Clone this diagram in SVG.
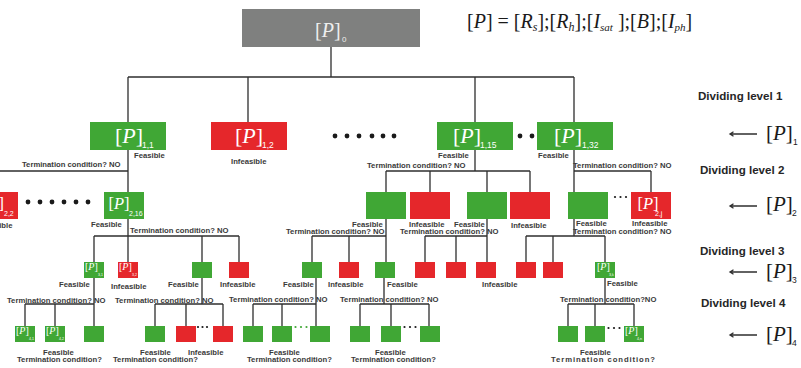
<svg xmlns="http://www.w3.org/2000/svg" width="801" height="368" viewBox="0 0 801 368">
<style>
.g{fill:#40a735}.r{fill:#e5272b}.gy{fill:#7f807f}
.ln{stroke:#2f2f2f;stroke-width:1.3;fill:none}
.lb{font-family:"Liberation Sans",Arial,sans-serif;font-weight:bold;font-size:7.7px;fill:#3a3a3a}
.dl{font-family:"Liberation Sans",Arial,sans-serif;font-weight:bold;font-size:11.6px;fill:#262626}
.pt{font-family:"Liberation Serif","Times New Roman",serif;fill:#fff}
.i{font-style:italic}
.sb{font-family:"Liberation Sans",Arial,sans-serif;fill:#fff}
.fm{font-family:"Liberation Serif","Times New Roman",serif;font-size:20px;fill:#1a1a1a}
.lp{font-family:"Liberation Serif","Times New Roman",serif;font-size:21px;fill:#1a1a1a}
.ls{font-family:"Liberation Sans",Arial,sans-serif;font-size:8.5px;fill:#1a1a1a}
.dk{fill:#1a1a1a}
.dg{fill:#40a735}
</style>
<g id="connectors" class="ln">
<path d="M331 47V77M128 77H574M128 77V122M248 77V122M475 77V122M574 77V122"/>
<path d="M128 150V192M0 171H128"/>
<path d="M128 219V236M94 236H239M94 236V262M128 236V262M202 236V262M239 236V262"/>
<path d="M94 278V326M25 304H94M25 304V326M55 304V326"/>
<path d="M202 278V304M155 304H223M155 304V326M186 304V326M223 304V326"/>
<path d="M475 150V171M386 171H530M386 171V192M430 171V192M487 171V192M530 171V192"/>
<path d="M386 219V236M312 236H386M312 236V262M349 236V262M386 236V262"/>
<path d="M316 278V326M253 304H316M253 304V326M282 304V326"/>
<path d="M384 278V304M360 304H429M360 304V326M391 304V326M429 304V326"/>
<path d="M487 219V236M425 236H487M425 236V262M456 236V262M487 236V262"/>
<path d="M574 150V192M574 171H651M651 171V192"/>
<path d="M574 219V236M526 236H605M526 236V262M553 236V262M605 236V262"/>
<path d="M605 278V304M568 304H634M568 304V326M595 304V326M634 304V326"/>
</g>
<g id="formula">
<text class="fm" x="467" y="28">[<tspan class="i">P</tspan>] = [<tspan class="i">R</tspan><tspan class="i" font-size="12" dy="3">s</tspan><tspan dy="-3">];[</tspan><tspan class="i">R</tspan><tspan class="i" font-size="12" dy="3">h</tspan><tspan dy="-3">];[</tspan><tspan class="i">I</tspan><tspan class="i" font-size="11" dy="3">sat</tspan><tspan dy="-3"> ];[</tspan><tspan class="i">B</tspan>];[<tspan class="i">I</tspan><tspan class="i" font-size="11" dy="3">ph</tspan><tspan dy="-3">]</tspan></text>
</g>
<g id="n0"><rect class="gy" x="242" y="9" width="178" height="38"/><text class="pt" x="315" y="37" font-size="20" style="fill:#eee">[<tspan class="i">P</tspan>]</text><text class="sb" x="342" y="42" font-size="8" style="fill:#eee">0</text></g>
<g id="n1_1"><rect class="g" x="90" y="122" width="76" height="28"/><text class="pt" x="115" y="143" font-size="22">[<tspan class="i">P</tspan>]</text><text class="sb" x="142" y="148" font-size="8.5">1,1</text><text class="lb" x="134" y="157.5">Feasible</text><text class="lb" x="22" y="167">Termination condition? NO</text></g>
<g id="n1_2"><rect class="r" x="211" y="122" width="76" height="28"/><text class="pt" x="235" y="143" font-size="22">[<tspan class="i">P</tspan>]</text><text class="sb" x="262" y="148" font-size="8.5">1,2</text><text class="lb" x="231" y="164">Infeasible</text></g>
<g id="n1_15"><rect class="g" x="437" y="122" width="76" height="28"/><text class="pt" x="453" y="143" font-size="22">[<tspan class="i">P</tspan>]</text><text class="sb" x="480" y="148" font-size="8.5">1,15</text><text class="lb" x="438" y="157.5">Feasible</text><text class="lb" x="367" y="167.5">Termination condition? NO</text></g>
<g id="n1_32"><rect class="g" x="537" y="122" width="76" height="28"/><text class="pt" x="554" y="143" font-size="22">[<tspan class="i">P</tspan>]</text><text class="sb" x="582" y="148" font-size="8.5">1,32</text><text class="lb" x="538" y="158">Feasible</text><text class="lb" x="573" y="167.5">Termination condition? NO</text></g>
<g id="dots1" class="dk"><circle cx="335" cy="136" r="2.4"/><circle cx="347" cy="136" r="2.4"/><circle cx="359" cy="136" r="2.4"/><circle cx="372" cy="136" r="2.4"/><circle cx="383" cy="136" r="2.4"/><circle cx="394" cy="136" r="2.4"/><circle cx="520" cy="136" r="2.4"/><circle cx="532" cy="136" r="2.4"/></g>
<g id="n2_2"><rect class="r" x="-22" y="192" width="40" height="27"/><text class="pt" x="-17" y="209" font-size="16.5">[<tspan class="i">P</tspan>]</text><text class="sb" x="4" y="216" font-size="7">2,2</text><text class="lb" x="-23" y="228">Infeasible</text></g>
<g id="dots2" class="dk"><circle cx="28" cy="202" r="2.4"/><circle cx="40" cy="202" r="2.4"/><circle cx="52" cy="202" r="2.4"/><circle cx="64" cy="202" r="2.4"/><circle cx="76" cy="202" r="2.4"/><circle cx="88" cy="202" r="2.4"/></g>
<g id="n2_16"><rect class="g" x="104" y="192" width="40" height="27"/><text class="pt" x="108.5" y="209" font-size="16.5">[<tspan class="i">P</tspan>]</text><text class="sb" x="129" y="216" font-size="7">2,16</text><text class="lb" x="91" y="227">Feasible</text><text class="lb" x="130" y="233">Termination condition? NO</text></g>
<g id="n2_a"><rect class="g" x="366" y="192" width="40" height="27"/><text class="lb" x="352" y="226.5">Feasible</text><text class="lb" x="286" y="233.5">Termination condition? NO</text></g>
<g id="n2_b"><rect class="r" x="410" y="192" width="40" height="27"/><text class="lb" x="409" y="227">Infeasible</text></g>
<g id="n2_c"><rect class="g" x="467" y="192" width="40" height="27"/><text class="lb" x="454" y="226.5">Feasible</text><text class="lb" x="400" y="233.5">Termination condition? NO</text></g>
<g id="n2_d"><rect class="r" x="510" y="192" width="40" height="27"/><text class="lb" x="511" y="228">Infeasible</text></g>
<g id="n2_e"><rect class="g" x="568" y="192" width="40" height="27"/><text class="lb" x="576" y="226">Feasible</text><text class="lb" x="573" y="234">Termination condition? NO</text></g>
<g id="n2_j"><rect class="r" x="631" y="192" width="40" height="27"/><text class="pt" x="637.5" y="209" font-size="16.5">[<tspan class="i">P</tspan>]</text><text class="sb" x="655" y="216" font-size="7">2,j</text><text class="lb" x="632" y="226">Infeasible</text></g>
<g id="dots2j" class="dk"><circle cx="615" cy="197" r="1.1"/><circle cx="620.5" cy="197" r="1.1"/><circle cx="626" cy="197" r="1.1"/></g>
<g id="n3_1"><rect class="g" x="84" y="262" width="20" height="16"/><text class="pt" x="85" y="270" font-size="10">[<tspan class="i">P</tspan>]</text><text class="sb" x="98" y="276" font-size="3.5">3,1</text><text class="lb" x="59" y="287">Feasible</text><text class="lb" x="7" y="302.5">Termination condition? NO</text></g>
<g id="n3_2"><rect class="r" x="118" y="262" width="20" height="16"/><text class="pt" x="119" y="270" font-size="10">[<tspan class="i">P</tspan>]</text><text class="sb" x="132" y="276" font-size="3.5">3,2</text><text class="lb" x="111" y="289">Infeasible</text></g>
<g id="n3_c"><rect class="g" x="192" y="262" width="20" height="16"/><text class="lb" x="168" y="287">Feasible</text><text class="lb" x="115" y="302.5">Termination condition? NO</text></g>
<g id="n3_d"><rect class="r" x="229" y="262" width="20" height="16"/><text class="lb" x="220" y="287">Infeasible</text></g>
<g id="n3_e"><rect class="g" x="302" y="262" width="20" height="16"/><text class="lb" x="283" y="287">Feasible</text><text class="lb" x="229" y="302">Termination condition? NO</text></g>
<g id="n3_f"><rect class="r" x="339" y="262" width="20" height="16"/><text class="lb" x="328" y="287">Infeasible</text></g>
<g id="n3_g"><rect class="g" x="375" y="262" width="20" height="16"/><text class="lb" x="387" y="287">Feasible</text><text class="lb" x="340" y="302">Termination condition? NO</text></g>
<g id="n3_h"><rect class="r" x="415" y="262" width="20" height="16"/></g>
<g id="n3_i"><rect class="r" x="446" y="262" width="20" height="16"/></g>
<g id="n3_j"><rect class="r" x="476" y="262" width="20" height="16"/><text class="lb" x="482" y="287">Infeasible</text></g>
<g id="n3_k1"><rect class="r" x="516" y="262" width="20" height="16"/></g>
<g id="n3_k2"><rect class="r" x="543" y="262" width="20" height="16"/></g>
<g id="n3_k"><rect class="g" x="595" y="262" width="20" height="16"/><text class="pt" x="597" y="270" font-size="10">[<tspan class="i">P</tspan>]</text><text class="sb" x="609" y="276" font-size="3.5">3,k</text><text class="lb" x="607" y="286">Feasible</text><text class="lb" x="560" y="302">Termination condition?NO</text></g>
<g id="n4_1"><rect class="g" x="15" y="326" width="20" height="16"/><text class="pt" x="16" y="334" font-size="10">[<tspan class="i">P</tspan>]</text><text class="sb" x="29" y="340" font-size="3.5">4,1</text></g>
<g id="n4_2"><rect class="g" x="45" y="326" width="20" height="16"/><text class="pt" x="46" y="334" font-size="10">[<tspan class="i">P</tspan>]</text><text class="sb" x="59" y="340" font-size="3.5">4,2</text></g>
<g id="n4_3"><rect class="g" x="84" y="326" width="20" height="16"/><text class="lb" x="43" y="355">Feasible</text><text class="lb" x="17" y="362">Termination condition?</text></g>
<g id="n4_4"><rect class="g" x="145" y="326" width="20" height="16"/><text class="lb" x="140" y="355">Feasible</text><text class="lb" x="113" y="362">Termination condition?</text></g>
<g id="n4_5"><rect class="r" x="176" y="326" width="20" height="16"/></g>
<g id="n4_6"><rect class="r" x="213" y="326" width="20" height="16"/><text class="lb" x="188" y="355">Infeasible</text></g>
<g id="dots4a" class="dk"><circle cx="198" cy="327" r="1.1"/><circle cx="202.5" cy="327" r="1.1"/><circle cx="207" cy="327" r="1.1"/></g>
<g id="n4_7"><rect class="g" x="243" y="326" width="20" height="16"/></g>
<g id="n4_8"><rect class="g" x="272" y="326" width="20" height="16"/><text class="lb" x="269" y="355">Feasible</text><text class="lb" x="247" y="362">Termination condition?</text></g>
<g id="n4_9"><rect class="g" x="310" y="326" width="20" height="16"/></g>
<g id="dots4b" class="dg"><circle cx="295.5" cy="327" r="1.1"/><circle cx="301" cy="327" r="1.1"/><circle cx="306.5" cy="327" r="1.1"/></g>
<g id="n4_10"><rect class="g" x="350" y="326" width="20" height="16"/></g>
<g id="n4_11"><rect class="g" x="381" y="326" width="20" height="16"/><text class="lb" x="375" y="355">Feasible</text><text class="lb" x="351" y="362">Termination condition?</text></g>
<g id="n4_12"><rect class="g" x="420" y="326" width="20" height="16"/></g>
<g id="dots4c" class="dk"><circle cx="404.5" cy="327" r="1.1"/><circle cx="410" cy="327" r="1.1"/><circle cx="415.5" cy="327" r="1.1"/></g>
<g id="n4_13"><rect class="g" x="558" y="326" width="20" height="16"/></g>
<g id="n4_14"><rect class="g" x="585" y="326" width="20" height="16"/><text class="lb" x="580" y="355">Feasible</text><text class="lb" x="551" y="362" textLength="104" lengthAdjust="spacing">Termination condition?</text></g>
<g id="n4_n"><rect class="g" x="624" y="326" width="20" height="16"/><text class="pt" x="625" y="334" font-size="10">[<tspan class="i">P</tspan>]</text><text class="sb" x="637" y="340" font-size="3.5">4,n</text></g>
<g id="dots4d" class="dk"><circle cx="608.5" cy="328" r="1.1"/><circle cx="614" cy="328" r="1.1"/><circle cx="619.5" cy="328" r="1.1"/></g>
<g id="legend">
<text class="dl" x="698" y="100">Dividing level 1</text>
<text class="dl" x="700" y="174">Dividing level 2</text>
<text class="dl" x="700" y="255">Dividing level 3</text>
<text class="dl" x="701" y="307">Dividing level 4</text>
<g class="ln" stroke-width="1"><path d="M757 134H730M733.5 131.8L730 134L733.5 136.2"/><path d="M757 206H730M733.5 203.8L730 206L733.5 208.2"/><path d="M757 272H730M733.5 269.8L730 272L733.5 274.2"/><path d="M757 335H730M733.5 332.8L730 335L733.5 337.2"/></g>
<text class="lp" x="766" y="140">[<tspan class="i">P</tspan>]</text><text class="ls" x="793" y="145">1</text>
<text class="lp" x="766" y="211">[<tspan class="i">P</tspan>]</text><text class="ls" x="792" y="216">2</text>
<text class="lp" x="766" y="278">[<tspan class="i">P</tspan>]</text><text class="ls" x="792" y="283">3</text>
<text class="lp" x="766" y="341">[<tspan class="i">P</tspan>]</text><text class="ls" x="792" y="346">4</text>
</g>
</svg>
